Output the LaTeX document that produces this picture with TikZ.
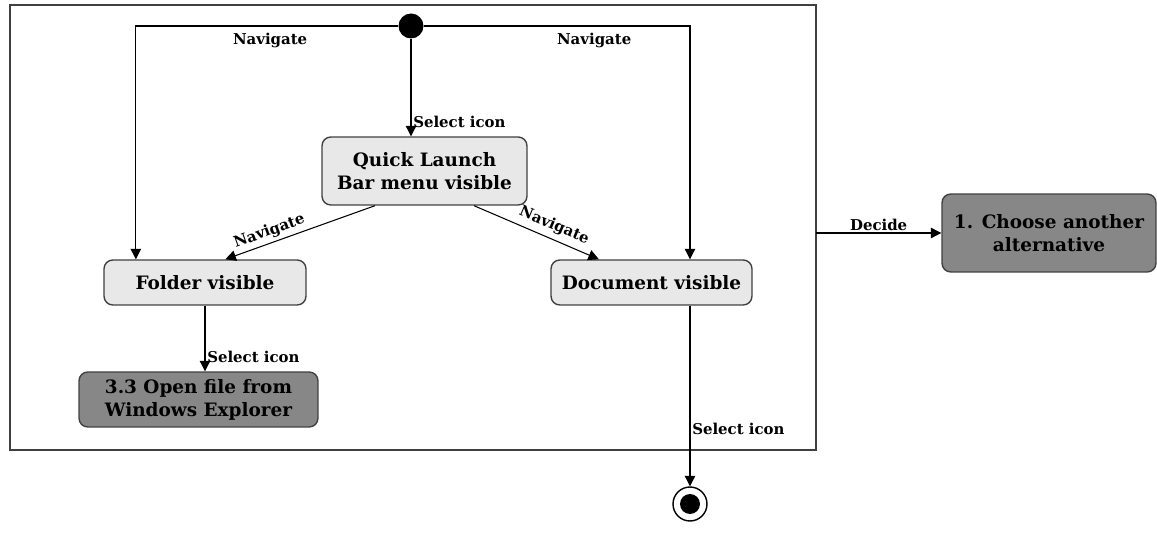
\documentclass[tikz,border=0pt]{standalone}
\usepackage{fontspec}
\setmainfont{DejaVu Serif}
\usetikzlibrary{positioning,arrows.meta,calc}
\definecolor{statelight}{rgb}{0.91,0.91,0.91}
\definecolor{statedark}{rgb}{0.53,0.53,0.53}
\definecolor{framegray}{rgb}{0.25,0.25,0.25}

\begin{document}
\begin{tikzpicture}[
  x=0.02cm, y=-0.02cm,
  state/.style={draw=framegray, rounded corners=5pt, fill=statelight, align=center,
    font=\bfseries\fontsize{10.5}{13}\selectfont, inner sep=2pt, line width=0.8pt},
  target/.style={state, fill=statedark},
  arrow/.style={-{Triangle[length=6pt,width=6pt]}, line width=0.6pt},
  lbl/.style={font=\bfseries\fontsize{8.5}{10}\selectfont, inner sep=1pt}
]
\useasboundingbox (0,0) rectangle (1157,550);

% enclosing frame
\draw[framegray, line width=1pt] (10,5) rectangle (816,450);
\coordinate (frameright) at (816,233);

% states
\node[circle, fill=black, inner sep=0pt, minimum size=0.5cm] (start) at (411,26) {};
\node[state, minimum width=4.1cm, minimum height=1.36cm] (quick) at (424.5,171) {Quick Launch\\Bar menu visible};
\node[state, minimum width=4.04cm, minimum height=0.9cm] (folder) at (205,282.5) {Folder visible};
\node[state, minimum width=4.02cm, minimum height=0.9cm] (document) at (651.5,282.5) {Document visible};
\node[target, minimum width=4.78cm, minimum height=1.1cm] (openfile) at (198.5,399.5) {3.3 Open file from\\Windows Explorer};
\node[target, minimum width=4.28cm, minimum height=1.56cm] (choose) at (1049,233) {1. Choose another\\alternative};
\node[circle, draw=black, line width=0.8pt, minimum size=0.68cm, inner sep=0pt] (final) at (690,504) {};
\fill[black] (final.center) circle (0.2cm);

% branches from the initial node
\draw[arrow] (start) -| node[lbl, pos=0.244, below, yshift=-3pt] {Navigate} ($(folder.north west)!0.16!(folder.north east)$);
\draw[arrow] (start) -| node[lbl, pos=0.32, below, yshift=-3pt] {Navigate} (final |- document.north);
\draw[arrow] (start) -- node[lbl, pos=0.85, right] {Select icon} (start |- quick.north);

% from the quick launch menu
\draw[arrow] ($(quick.south west)!0.26!(quick.south east)$) -- node[lbl, sloped, above=1pt, pos=0.68] {Navigate} ($(folder.north west)!0.6!(folder.north east)$);
\draw[arrow] ($(quick.south west)!0.74!(quick.south east)$) -- node[lbl, sloped, above=2pt, pos=0.6] {Navigate} ($(document.north west)!0.24!(document.north east)$);

% selections
\draw[arrow] (folder) -- node[lbl, pos=0.78, right] {Select icon} (folder |- openfile.north);
\draw[arrow] (final |- document.south) -- node[lbl, pos=0.68, right] {Select icon} (final);

% leaving the frame
\draw[arrow] (frameright) -- node[lbl, above] {Decide} (choose);
\end{tikzpicture}
\end{document}
